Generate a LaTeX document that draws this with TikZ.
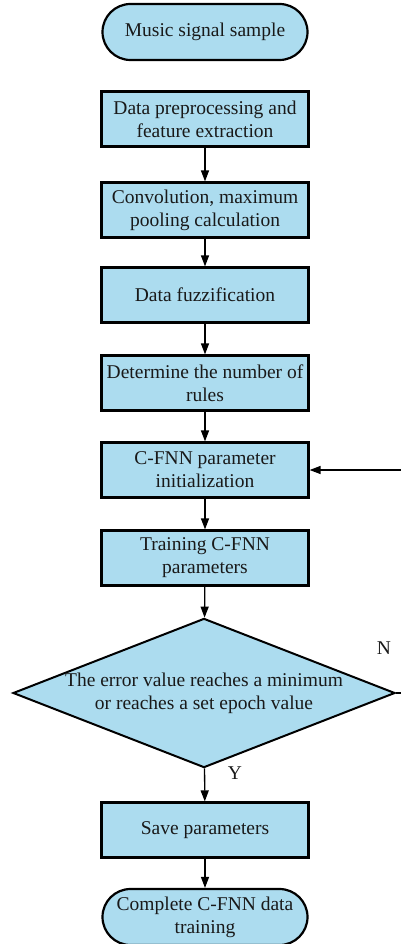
\documentclass[tikz,border=0pt]{standalone}
\usepackage{fontspec}
\setmainfont{Liberation Serif}
\usetikzlibrary{shapes.geometric,shapes.misc,arrows.meta}
\definecolor{fillblue}{RGB}{172,220,239}
\definecolor{txt}{RGB}{25,25,25}
\tikzset{
  procbox/.style={draw=black, line width=2.2pt, fill=fillblue, minimum width=207pt, minimum height=55pt, inner sep=0pt, align=center, text=txt, font=\fontsize{19.5}{23}\selectfont},
  termbox/.style={rounded rectangle, draw=black, line width=2.2pt, fill=fillblue, minimum width=205pt, minimum height=56pt, inner sep=0pt, align=center, text=txt, font=\fontsize{19.5}{23}\selectfont},
  decbox/.style={diamond, draw=black, line width=2pt, fill=fillblue, minimum width=382pt, minimum height=149pt, aspect=2.56, inner sep=0pt, align=center, text=txt, font=\fontsize{19.5}{23}\selectfont},
  conn/.style={draw=black, line width=1.3pt, -{Triangle[length=11pt,width=8pt]}},
  lbl/.style={text=txt, font=\fontsize{19.5}{23}\selectfont, inner sep=0pt}
}
\begin{document}
\begin{tikzpicture}[x=1pt,y=-1pt]
\useasboundingbox (0,0) rectangle (400,944);
\node[termbox] (start) at (205,32) {Music signal sample};
\node[procbox] (b1) at (205,119) {Data preprocessing and\\feature extraction};
\node[procbox] (b2) at (205,210) {Convolution, maximum\\pooling calculation};
\node[procbox] (b3) at (205,295) {Data fuzzification};
\node[procbox] (b4) at (205,383) {Determine the number of\\rules};
\node[procbox] (b5) at (205,470) {C-FNN parameter\\initialization};
\node[procbox] (b6) at (205,558) {Training C-FNN\\parameters};
\node[decbox] (dec) at (204,693) {The error value reaches a minimum\\or reaches a set epoch value};
\node[procbox] (save) at (205,830) {Save parameters};
\node[termbox] (fin) at (205,917) {Complete C-FNN data\\training};
\node[lbl] (nl) at (384,648) {N};
\node[lbl] (yl) at (235,773) {Y};
\coordinate (r1) at (412,693);
\coordinate (r2) at (412,470);
\draw[conn] (b1) -- (b2);
\draw[conn] (b2) -- (b3);
\draw[conn] (b3) -- (b4);
\draw[conn] (b4) -- (b5);
\draw[conn] (b5) -- (b6);
\draw[conn] (b6) -- (dec);
\draw[conn] (dec) -- (save);
\draw[conn] (save) -- (fin);
\draw[conn] (dec.east) -- (r1) -- (r2) -- (b5.east);
\end{tikzpicture}
\end{document}
